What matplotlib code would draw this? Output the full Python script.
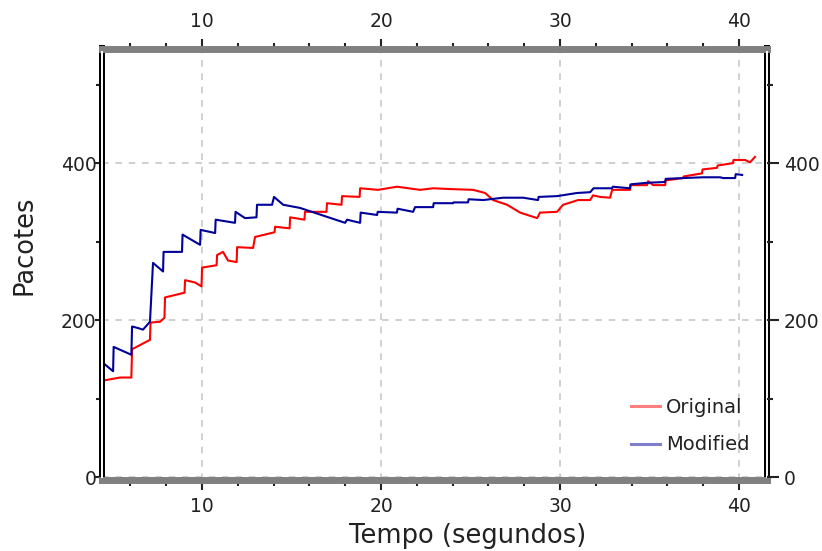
import matplotlib
matplotlib.use("Agg")
import matplotlib.pyplot as plt
from matplotlib.lines import Line2D
from matplotlib.ticker import MultipleLocator, FixedLocator

# --- data (time in s, packets) ---
orig_t = [4.45, 4.69, 5.42, 6.05, 6.09, 7.09, 7.12, 7.65, 7.90, 7.93, 9.02, 9.05,
          9.61, 9.97, 10.0, 10.81, 10.84, 11.17, 11.45, 11.93, 11.96, 12.85, 12.96,
          14.05, 14.08, 14.89, 14.92, 15.72, 15.75, 16.95, 16.98, 17.79, 17.82,
          18.80, 18.83, 19.83, 20.89, 22.18, 22.91, 23.85, 25.14, 25.81, 26.26,
          27.04, 27.77, 28.72, 28.88, 29.83, 30.17, 31.01, 31.68, 31.84, 32.23,
          32.79, 32.91, 33.91, 33.93, 34.86, 34.92, 35.20, 35.87, 35.90, 36.87,
          36.90, 37.93, 37.96, 38.77, 38.80, 39.66, 39.69, 40.34, 40.61, 40.89]
orig_v = [123, 124, 127, 127, 163, 175, 197, 198, 203, 229, 235, 251,
          248, 243, 267, 270, 283, 287, 276, 274, 293, 292, 306,
          312, 319, 317, 331, 328, 338, 338, 349, 347, 358,
          357, 368, 366, 370, 366, 368, 367, 366, 362, 353,
          347, 337, 330, 337, 338, 347, 353, 353, 359, 357,
          356, 366, 366, 372, 372, 377, 372, 372, 378, 381,
          383, 387, 392, 394, 397, 400, 404, 404, 401, 408]

mod_t = [4.45, 5.03, 5.06, 6.05, 6.09, 6.42, 6.70, 7.09, 7.26, 7.82, 7.85, 8.88,
         8.91, 9.89, 9.92, 10.73, 10.76, 11.84, 11.87, 12.40, 13.04, 13.07, 13.91,
         14.02, 14.53, 15.47, 17.99, 18.10, 18.83, 18.86, 19.78, 19.81, 20.89,
         20.92, 21.79, 21.90, 22.91, 22.94, 24.02, 24.05, 24.86, 24.89, 25.70,
         26.82, 27.93, 28.77, 28.80, 29.83, 30.95, 31.68, 31.87, 32.91, 32.94,
         33.91, 33.94, 34.86, 35.87, 35.90, 36.87, 37.99, 38.94, 39.11, 39.78,
         39.81, 40.17]
mod_v = [146, 135, 166, 156, 192, 190, 188, 198, 273, 262, 287, 287,
         309, 296, 315, 311, 328, 324, 338, 330, 331, 347, 347,
         357, 347, 343, 324, 328, 324, 337, 334, 338, 337,
         342, 338, 344, 344, 349, 349, 350, 350, 354, 353,
         356, 356, 353, 357, 358, 362, 363, 368, 368, 370,
         368, 373, 375, 376, 380, 381, 382, 382, 381, 381,
         386, 385]

series_names = ["Original", "Modified"]
x_major = [10, 20, 30, 40]
y_major = [0, 200, 400]
y_minor = [100, 300, 500]

TXT = "#222222"
plt.rcParams["font.family"] = ["DejaVu Sans"]

fig = plt.figure(figsize=(8.22, 5.51), dpi=100)
ax = fig.add_axes([102 / 822, 1 - 480 / 551, (767 - 102) / 822, (480 - 48.5) / 551])

ax.plot(orig_t, orig_v, color="#ff0000", lw=1.5, zorder=2)
ax.plot(mod_t, mod_v, color="#00009a", lw=1.5, zorder=2)

ax.set_xlim(4.41, 41.56)
ax.set_ylim(-3.5, 546)

# grid
ax.set_xticks(x_major)
ax.xaxis.set_minor_locator(MultipleLocator(2))
ax.set_yticks(y_major)
ax.yaxis.set_minor_locator(FixedLocator(y_minor))
ax.grid(True, which="major", color="#c8c8c8", lw=1.2, linestyle=(0, (4, 4)))
ax.set_axisbelow(True)

# spines: thick grey top/bottom, double black left/right
for s in ("top", "bottom"):
    ax.spines[s].set_color("#808080")
    ax.spines[s].set_linewidth(5)
for s in ("left", "right"):
    ax.spines[s].set_color("black")
    ax.spines[s].set_linewidth(4.3)
for xa in (0, 1):
    ax.plot([xa, xa], [0.005, 0.995], transform=ax.transAxes, color="white",
            lw=1.4, clip_on=False, zorder=3, solid_capstyle="butt")

# x ticks top and bottom
ax.tick_params(axis="x", which="both", top=True, bottom=True, labeltop=True,
               labelbottom=True, direction="out", colors=TXT, labelsize=13.5)
ax.tick_params(axis="x", which="major", length=7, width=1.5, pad=5.5)
ax.tick_params(axis="x", which="minor", length=4.3, width=1.5)

# left y ticks
ax.tick_params(axis="y", which="both", left=True, right=False, direction="out",
               colors=TXT, labelsize=13.5)
ax.tick_params(axis="y", which="major", length=5, width=1.5, pad=-1)
ax.tick_params(axis="y", which="minor", length=4.3, width=1.5)

# right y ticks through a twin axis
ax2 = ax.twinx()
ax2.set_ylim(ax.get_ylim())
ax2.set_yticks(y_major)
ax2.yaxis.set_minor_locator(FixedLocator(y_minor))
for s in ax2.spines.values():
    s.set_visible(False)
ax2.tick_params(axis="y", which="both", direction="out", colors=TXT, labelsize=13.5)
ax2.tick_params(axis="y", which="major", length=8.6, width=1.5, pad=3.6)
ax2.tick_params(axis="y", which="minor", length=4.3, width=1.5)

# axis titles
fig.text(468 / 822, 1 - 536 / 551, "Tempo (segundos)", ha="center", va="center",
         fontsize=18.5, color=TXT)
fig.text(25 / 822, 1 - 245 / 551, "Pacotes", ha="center", va="center",
         rotation=90, fontsize=18.5, color=TXT)

# legend
handles = [Line2D([], [], color="#ff0000", lw=2.2, alpha=0.5),
           Line2D([], [], color="#00009a", lw=2.2, alpha=0.5)]
leg = ax.legend(handles, series_names, loc="upper left",
                bbox_to_anchor=(631 / 822, 1 - 398 / 551),
                bbox_transform=fig.transFigure, frameon=False, fontsize=14,
                handlelength=1.5, handletextpad=0.3, labelspacing=0.95,
                borderpad=0, borderaxespad=0)
for t in leg.get_texts():
    t.set_color(TXT)

fig.savefig("out.png", dpi=100)
